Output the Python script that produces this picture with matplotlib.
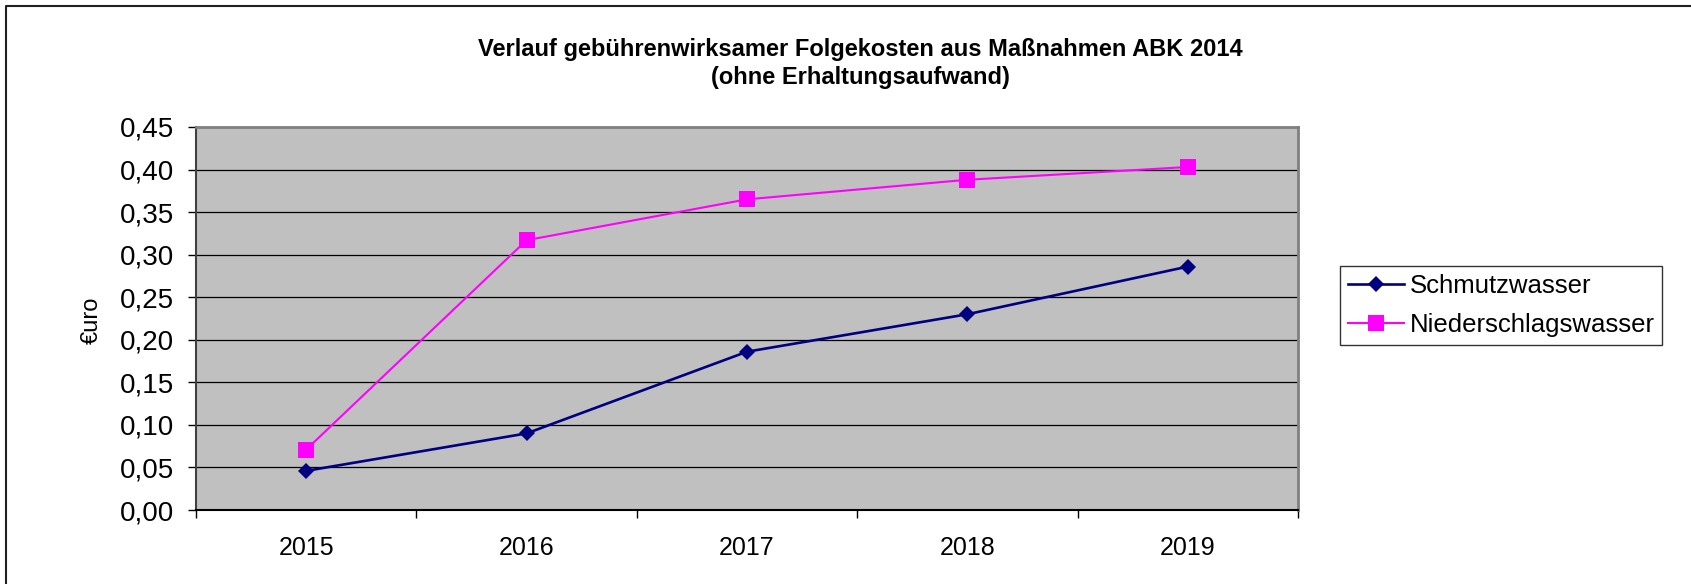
import matplotlib
matplotlib.use("Agg")
import matplotlib.pyplot as plt
from matplotlib.lines import Line2D
from matplotlib.ticker import FuncFormatter, FixedLocator

plt.rcParams['font.family'] = ['Liberation Sans', 'DejaVu Sans']

# data
years = ['2015', '2016', '2017', '2018', '2019']
schmutzwasser = [0.046, 0.090, 0.186, 0.230, 0.286]
niederschlagswasser = [0.071, 0.317, 0.365, 0.388, 0.403]
y_ticks = [0.00, 0.05, 0.10, 0.15, 0.20, 0.25, 0.30, 0.35, 0.40, 0.45]

W, H = 1691, 584
fig = plt.figure(figsize=(W / 100, H / 100), dpi=100)

# plot area in pixels: left 196, right 1298, top 127, bottom 510
ax = fig.add_axes([196 / W, 1 - 510 / H, (1298 - 196) / W, (510 - 127) / H])
ax.set_facecolor('#C0C0C0')

x = list(range(len(years)))
ax.plot(x, schmutzwasser, color='#000080', lw=1.9, marker='D', ms=8.5,
        mew=0, label='Schmutzwasser', zorder=3)
ax.plot(x, niederschlagswasser, color='#FF00FF', lw=1.5, marker='s', ms=11,
        mew=0, label='Niederschlagswasser', zorder=3)

ax.set_xlim(-0.5, len(years) - 0.5)
ax.set_ylim(0, 0.45)
ax.set_yticks(y_ticks)
ax.yaxis.set_major_formatter(FuncFormatter(lambda v, p: f"{v:.2f}".replace('.', ',')))
ax.set_xticks(x)
ax.set_xticklabels(years)
ax.xaxis.set_minor_locator(FixedLocator([i - 0.5 for i in range(len(years) + 1)]))
ax.tick_params(axis='x', which='major', length=0, pad=19, labelsize=18)
ax.tick_params(axis='x', which='minor', length=6, width=1, direction='out')
ax.tick_params(axis='y', length=6, width=1, direction='out', pad=10, labelsize=20)

ax.grid(axis='y', color='black', lw=0.9)
ax.set_axisbelow(True)
for side in ['top', 'right']:
    ax.spines[side].set_color('#808080')
    ax.spines[side].set_linewidth(2)
ax.spines['left'].set_color('#404040')
ax.spines['left'].set_linewidth(1.5)
ax.spines['bottom'].set_color('black')
ax.spines['bottom'].set_linewidth(1.5)

fig.text(92 / W, 1 - 320 / H, '€uro', rotation=90, ha='center', va='center', fontsize=17)

fig.text(860 / W, 1 - 56 / H, 'Verlauf gebührenwirksamer Folgekosten aus Maßnahmen ABK 2014',
         ha='center', va='baseline', fontsize=17, fontweight='bold')
fig.text(860 / W, 1 - 84 / H, '(ohne Erhaltungsaufwand)',
         ha='center', va='baseline', fontsize=17, fontweight='bold')

leg = fig.legend(loc='upper left', bbox_to_anchor=(1340 / W, 1 - 266 / H),
                 bbox_transform=fig.transFigure, fontsize=18.5, frameon=True,
                 fancybox=False, edgecolor='black', handlelength=2.2,
                 handletextpad=0.2, labelspacing=0.6, borderpad=0.3,
                 borderaxespad=0)
leg.get_frame().set_linewidth(1)

# outer chart border (left and top edges visible)
fig.add_artist(Line2D([6 / W, 6 / W, 1], [0, 1 - 6 / H, 1 - 6 / H],
                      transform=fig.transFigure, color='#202020', lw=1.5))

fig.savefig('out.png', dpi=100)
